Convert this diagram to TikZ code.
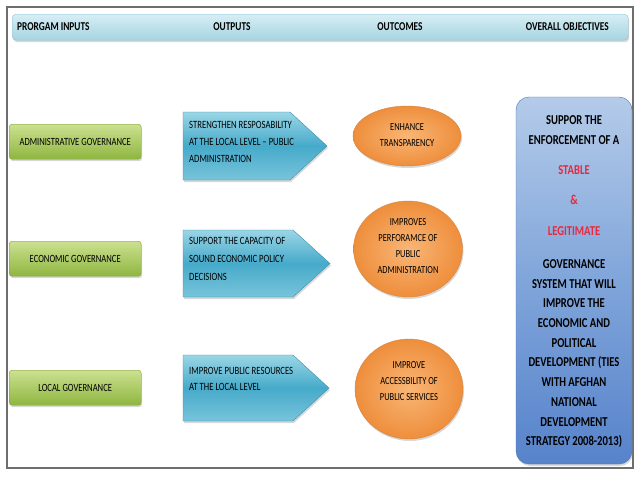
\documentclass[tikz,border=0pt]{standalone}
\usepackage{fontspec}
\setmainfont[FakeStretch=0.78]{Carlito}
\usetikzlibrary{shapes.geometric,shadows}
\definecolor{frameg}{HTML}{6E6E6E}
\definecolor{hdr1}{HTML}{D7EEF4}
\definecolor{hdr2}{HTML}{A5D4E1}
\definecolor{hdrb}{HTML}{8CC3D3}
\definecolor{grn1}{HTML}{CBE190}
\definecolor{grn2}{HTML}{8FB540}
\definecolor{grnb}{HTML}{7F9E3A}
\definecolor{cy1}{HTML}{9AD6E6}
\definecolor{cy2}{HTML}{46AACA}
\definecolor{cy3}{HTML}{78C4DA}
\definecolor{cyb}{HTML}{3C8FAE}
\definecolor{or1}{HTML}{F9B676}
\definecolor{or2}{HTML}{EE8E3C}
\definecolor{orb}{HTML}{D9853E}
\definecolor{bl1}{HTML}{B4CBE9}
\definecolor{bl2}{HTML}{80A5DA}
\definecolor{bl3}{HTML}{5783CB}
\definecolor{blb}{HTML}{4C75B7}
\definecolor{redt}{HTML}{E8283C}
\tikzset{
  shad/.style={drop shadow={shadow xshift=1pt,shadow yshift=-2pt,opacity=0.3}},
  hdrtxt/.style={font=\fontsize{12}{14}\selectfont\bfseries,inner sep=0pt},
  gbox/.style={rounded corners=3pt,draw=grnb,top color=grn1,bottom color=grn2,
    minimum width=132pt,minimum height=35pt,anchor=north west,shad,
    font=\fontsize{11}{13}\selectfont,inner sep=0pt},
  pent/.style={draw=cyb,top color=cy1,bottom color=cy3,middle color=cy2,shad},
  ptxt/.style={font=\fontsize{11.1}{13}\selectfont,inner sep=0pt,anchor=west},
  ell/.style={ellipse,draw=orb,inner color=or1,outer color=or2,shad,inner sep=0pt},
  etxt/.style={font=\fontsize{10.8}{13}\selectfont,inner sep=0pt},
  rtxt/.style={font=\fontsize{13.6}{16}\selectfont\bfseries,inner sep=0pt},
}
\begin{document}
\begin{tikzpicture}[x=1pt,y=-1pt]
\useasboundingbox (0,0) rectangle (640,480);
\fill[white] (0,0) rectangle (640,480);
\draw[frameg,line width=1.3pt] (7,7) rectangle (633,468);
% header
\node[rounded corners=4pt,draw=hdrb,top color=hdr1,bottom color=hdr2,shad,
  minimum width=616pt,minimum height=26pt,anchor=north west,inner sep=0pt] (hdr) at (12,14) {};
\node[hdrtxt,anchor=west] (h1) at (17,27) {PRORGAM INPUTS};
\node[hdrtxt] (h2) at (232,27) {OUTPUTS};
\node[hdrtxt] (h3) at (400,27) {OUTCOMES};
\node[hdrtxt,anchor=east] (h4) at (609,27) {OVERALL OBJECTIVES};
% inputs
\node[gbox] (in1) at (9,124) {ADMINISTRATIVE GOVERNANCE};
\node[gbox] (in2) at (9,241) {ECONOMIC GOVERNANCE};
\node[gbox] (in3) at (9,370) {LOCAL GOVERNANCE};
% outputs
\path[pent] (183,112) -- (290,112) -- (327,146) -- (290,180) -- (183,180) -- cycle;
\path[pent] (183,230) -- (293,230) -- (330,263.5) -- (293,297) -- (183,297) -- cycle;
\path[pent] (183,355) -- (293,355) -- (329,388) -- (293,421) -- (183,421) -- cycle;
\foreach \t [count=\i] in {STRENGTHEN RESPOSABILITY,AT THE LOCAL LEVEL – PUBLIC,ADMINISTRATION}
  \node[ptxt] (oa\i) at (189,{125+17*(\i-1)}) {\t};
\foreach \t [count=\i] in {SUPPORT THE CAPACITY OF,SOUND ECONOMIC POLICY,DECISIONS}
  \node[ptxt] (ob\i) at (189,{241+18*(\i-1)}) {\t};
\foreach \t [count=\i] in {IMPROVE PUBLIC RESOURCES,AT THE LOCAL LEVEL}
  \node[ptxt] (oc\i) at (189,{371+16*(\i-1)}) {\t};
% outcomes
\node[ell,minimum width=108pt,minimum height=60pt] (e1) at (407,136) {};
\node[ell,minimum width=109pt,minimum height=96pt] (e2) at (408,249) {};
\node[ell,minimum width=108pt,minimum height=100pt] (e3) at (409,389) {};
\foreach \t [count=\i] in {ENHANCE,TRANSPARENCY}
  \node[etxt] (ea\i) at (407,{127+16*(\i-1)}) {\t};
\foreach \t [count=\i] in {IMPROVES,PERFORAMCE OF,PUBLIC,ADMINISTRATION}
  \node[etxt] (eb\i) at (408,{222+16*(\i-1)}) {\t};
\foreach \t [count=\i] in {IMPROVE,ACCESSBILITY OF,PUBLIC SERVICES}
  \node[etxt] (ec\i) at (409,{365+16*(\i-1)}) {\t};
% objectives
\path[rounded corners=13pt,draw=blb,top color=bl1,bottom color=bl3,middle color=bl2,shad]
  (516,97) rectangle (632,464);
\node[rtxt] (r1) at (574,120) {SUPPOR THE};
\node[rtxt] (r2) at (574,140) {ENFORCEMENT OF A};
\node[rtxt,text=redt] (r3) at (574,170) {STABLE};
\node[rtxt,text=redt] (r4) at (574,200) {\&};
\node[rtxt,text=redt] (r5) at (574,231) {LEGITIMATE};
\foreach \t [count=\i] in {GOVERNANCE,SYSTEM THAT WILL,IMPROVE THE,ECONOMIC AND,POLITICAL,DEVELOPMENT (TIES,WITH AFGHAN,NATIONAL,DEVELOPMENT,STRATEGY 2008-2013)}
  \node[rtxt] (rg\i) at (574,{264+19.75*(\i-1)}) {\t};
\end{tikzpicture}
\end{document}
